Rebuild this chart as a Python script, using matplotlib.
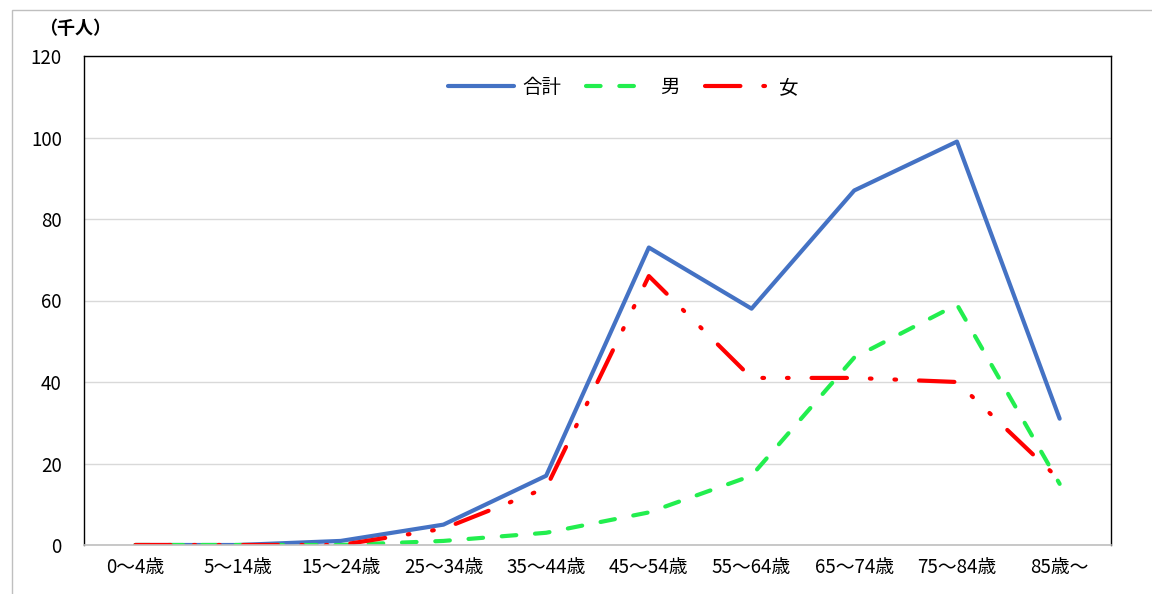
import matplotlib.pyplot as plt
from matplotlib.patches import Rectangle

plt.rcParams['font.family'] = ['Noto Sans CJK JP', 'DejaVu Sans']

# data
age_groups = ['0～4歳', '5～14歳', '15～24歳', '25～34歳', '35～44歳',
              '45～54歳', '55～64歳', '65～74歳', '75～84歳', '85歳～']
total = [0, 0, 1, 5, 17, 73, 58, 87, 99, 31]
male = [0, 0, 0, 1, 3, 8, 17, 46, 59, 15]
female = [0, 0, 0, 4, 14, 66, 41, 41, 40, 16]

fig = plt.figure(figsize=(11.52, 5.94), dpi=100)
ax = fig.add_axes([84 / 1152, 1 - 545 / 594, (1111 - 84) / 1152, (545 - 56) / 594])

# outer border of the chart
fig.patches.append(Rectangle((12 / 1152, -0.01), 1.0, 1 - 10 / 594 + 0.01,
                             transform=fig.transFigure, fill=False,
                             edgecolor='#BFBFBF', linewidth=1))

x = list(range(len(age_groups)))
ax.plot(x, total, color='#4472C4', linewidth=3, solid_capstyle='round',
        solid_joinstyle='round', label='合計')
ax.plot(x, male, color='#22EE4E', linewidth=3, linestyle=(0, (3.5, 4.5)),
        dash_capstyle='round', label='男')
ax.plot(x, female, color='#FF0000', linewidth=3,
        linestyle=(0, (8.5, 5.5, 0.4, 5.5, 0.4, 5.5)),
        dash_capstyle='round', label='女')

ax.set_xlim(-0.5, len(age_groups) - 0.5)
ax.set_ylim(0, 120)
ax.set_yticks(range(0, 121, 20))
ax.set_xticks(x)
ax.set_xticklabels(age_groups)
ax.tick_params(axis='both', length=0, labelsize=13.5)
ax.tick_params(axis='x', pad=9)
ax.tick_params(axis='y', pad=16)
ax.grid(axis='y', color='#D9D9D9', linewidth=1)
ax.set_axisbelow(True)
for s in ['left', 'top', 'right']:
    ax.spines[s].set_color('black')
    ax.spines[s].set_linewidth(1)
ax.spines['bottom'].set_color('#BFBFBF')
ax.spines['bottom'].set_linewidth(1.2)

fig.text(75 / 1152, 1 - 28 / 594, '（千人）', ha='center', va='center',
         fontsize=13, fontweight='bold')

ax.legend(loc='center', bbox_to_anchor=(0.525, 0.935), ncol=3, frameon=False,
          fontsize=14, handlelength=3.4, columnspacing=1.3, handletextpad=0.4)

fig.savefig('out.png', dpi=100)
